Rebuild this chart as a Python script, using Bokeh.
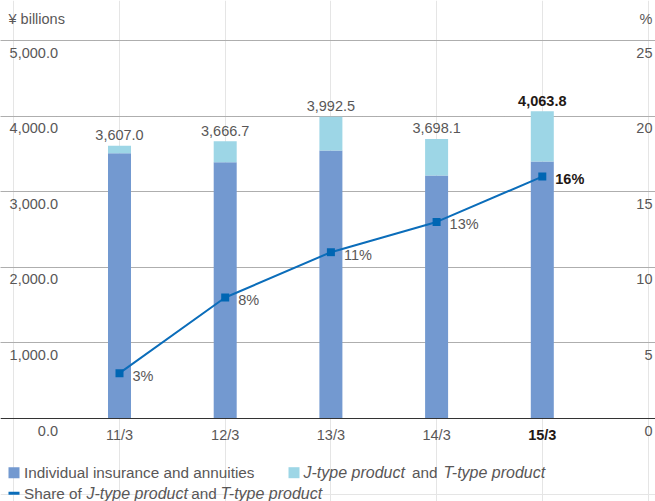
from bokeh.plotting import figure
from bokeh.models import Range1d, Grid, FixedTicker, Span, ColumnDataSource
from bokeh.core.properties import value
from bokeh.embed import file_html
from bokeh.resources import INLINE

# ---------------- data ----------------
categories = ["11/3", "12/3", "13/3", "14/3", "15/3"]
totals = [3607.0, 3666.7, 3992.5, 3698.1, 4063.8]          # ¥ billions, total bar
individual = [3509.0, 3390.0, 3545.0, 3214.0, 3399.0]      # Individual insurance and annuities
share_pct = [3, 8, 11, 13, 16]                              # share of J-type and T-type (%)
left_ticks = [0, 1000, 2000, 3000, 4000, 5000]
left_tick_labels = ["0.0", "1,000.0", "2,000.0", "3,000.0", "4,000.0", "5,000.0"]
right_ticks = [0, 5, 10, 15, 20, 25]
right_tick_labels = ["0", "5", "10", "15", "20", "25"]
highlight = "15/3"

jt_type = [t - i for t, i in zip(totals, individual)]

# ---------------- layout / style ----------------
W, H = 655, 501
STEP = 105.7          # px between categories
X_FIRST = 119.0       # px of first category
Y_ZERO, Y_TOP = 418.0, 40.0   # px of 0 and of top tick
LEFT_MAX, RIGHT_MAX = 5000.0, 25.0
PPU = (Y_ZERO - Y_TOP) / LEFT_MAX

XS = -X_FIRST / STEP
XE = XS + W / STEP
YE = LEFT_MAX + Y_TOP / PPU
YS = YE - H / PPU
RATIO = RIGHT_MAX / LEFT_MAX


def X(px):
    return XS + px / STEP


def Y(py):
    return YE - py / PPU


DARK = "#7399d0"
LIGHT = "#9dd6e6"
LINE = "#0b6dba"
GRAY = "#595757"
BLACK = "#231815"
FONT = value("Liberation Sans")
FS = "14.5px"
LFS = "15.3px"
MID = "middle"

p = figure(width=W, height=H, output_backend="svg", toolbar_location=None,
           x_range=Range1d(XS, XE), y_range=Range1d(YS, YE),
           x_axis_location=None, y_axis_location=None,
           min_border=0, outline_line_color=None)
p.extra_y_ranges = {"pct": Range1d(YS * RATIO, YE * RATIO)}

grid = Grid(dimension=1, ticker=FixedTicker(ticks=left_ticks[1:]),
            grid_line_color="#777777", grid_line_dash="1 1", grid_line_width=1)
p.add_layout(grid)
p.add_layout(Span(location=0, dimension="width", line_color="#333333", line_width=1))

idx = list(range(len(categories)))
is_hl = [c == highlight for c in categories]
styles = ["bold" if h else "normal" for h in is_hl]
colors = [BLACK if h else GRAY for h in is_hl]

src = ColumnDataSource(dict(
    x=idx, ind=individual, tot=totals, jt=jt_type, share=share_pct,
    cat=categories, tot_lbl=[f"{t:,.1f}" for t in totals],
    pct_lbl=[f"{s}%" for s in share_pct], style=styles, color=colors,
))

BW = 23 / STEP
p.vbar(x="x", bottom=0, top="ind", width=BW, fill_color=DARK, line_color=None, source=src)
p.vbar(x="x", bottom="ind", top="tot", width=BW, fill_color=LIGHT, line_color=None, source=src)

p.line(x="x", y="share", y_range_name="pct", line_color=LINE, line_width=2, source=src)
p.scatter(x="x", y="share", y_range_name="pct", marker="square", size=8,
          fill_color="#0066b3", line_color=None, source=src)

# value labels
p.text(x="x", y="tot", text="tot_lbl", text_align="center", text_baseline=MID,
       y_offset=-10.5, text_font=FONT, text_font_size=FS, text_color="color",
       text_font_style="style", source=src)
p.text(x="x", y="share", y_range_name="pct", text="pct_lbl", text_align="left",
       text_baseline=MID, x_offset=13, y_offset=2.5, text_font=FONT,
       text_font_size=FS, text_color="color", text_font_style="style", source=src)
# category labels
p.text(x="x", y=0, text="cat", text_align="center", text_baseline=MID,
       y_offset=16, text_font=FONT, text_font_size=FS, text_color="color",
       text_font_style="style", source=src)

# axis tick labels
p.text(x=[X(57.5)] * len(left_ticks), y=left_ticks, text=left_tick_labels,
       text_align="right", text_baseline=MID, y_offset=12,
       text_font=FONT, text_font_size=FS, text_color=GRAY)
p.text(x=[X(652)] * len(right_ticks), y=right_ticks, text=right_tick_labels,
       y_range_name="pct", text_align="right", text_baseline=MID, y_offset=12,
       text_font=FONT, text_font_size=FS, text_color=GRAY)
p.text(x=[X(8)], y=[Y(18)], text=["¥ billions"], text_align="left",
       text_baseline=MID, text_font=FONT, text_font_size=FS, text_color=GRAY)
p.text(x=[X(652)], y=[Y(18)], text=["%"], text_align="right",
       text_baseline=MID, text_font=FONT, text_font_size=FS, text_color=GRAY)

# legend (row centres)
R1, R2 = 472.2, 492.7
p.quad(left=[X(8)], right=[X(19)], top=[Y(R1 - 5.5)], bottom=[Y(R1 + 5.5)],
       fill_color=DARK, line_color=None)
p.quad(left=[X(288)], right=[X(299)], top=[Y(R1 - 5.5)], bottom=[Y(R1 + 5.5)],
       fill_color=LIGHT, line_color=None)
p.quad(left=[X(8)], right=[X(19)], top=[Y(R2 - 1.5)], bottom=[Y(R2 + 1.5)],
       fill_color=LINE, line_color=None)

leg_text = ["Individual insurance and annuities", "J-type product", "and", "T-type product",
            "Share of", "J-type product", "and", "T-type product"]
leg_x = [23.5, 303, 411.5, 443, 23.5, 86, 190.7, 220]
leg_y = [R1] * 4 + [R2] * 4
leg_style = ["normal", "italic", "normal", "italic", "normal", "italic", "normal", "italic"]
leg_size = [LFS if s == "normal" else "16px" for s in leg_style]
p.text(x=[X(v) for v in leg_x], y=[Y(v) for v in leg_y], text=leg_text,
       text_font_style=leg_style, text_font_size=leg_size, text_align="left",
       text_baseline=MID, text_font=FONT, text_color=GRAY)

open("out.html", "w").write(file_html(p, INLINE))
